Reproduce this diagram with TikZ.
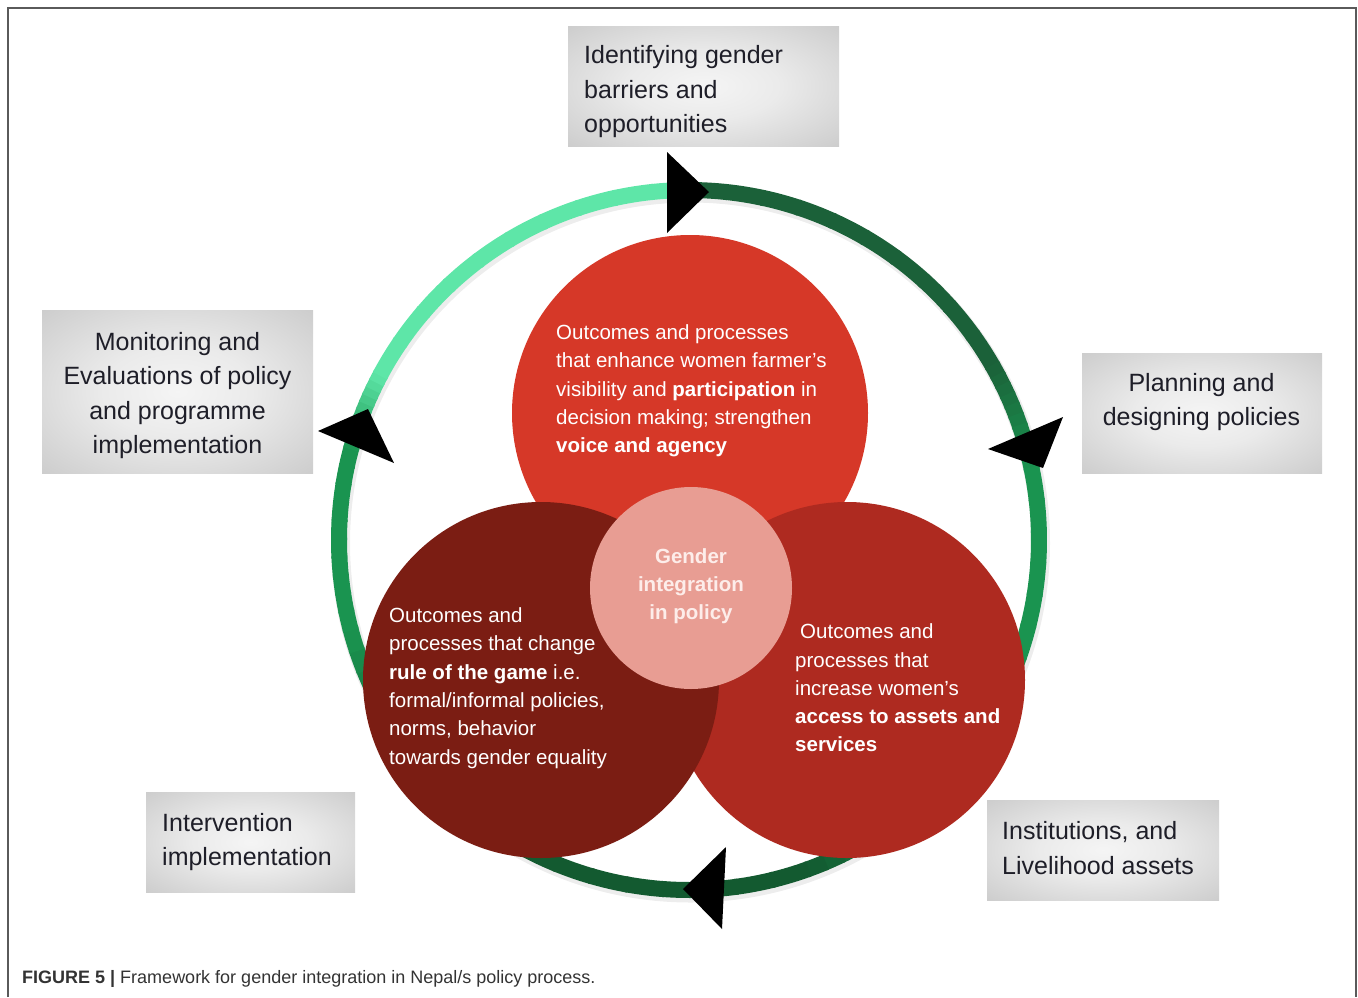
\documentclass[tikz,border=0pt]{standalone}
\usepackage{fontspec}
\setmainfont{Liberation Sans}[Ligatures=ResetAll]
\definecolor{gdark}{HTML}{1B6139}
\definecolor{gmed}{HTML}{1A9450}
\definecolor{gdarkb}{HTML}{135A30}
\definecolor{gmint}{HTML}{5EE6A8}
\definecolor{ctop}{HTML}{D63828}
\definecolor{cleft}{HTML}{7B1D13}
\definecolor{cright}{HTML}{AE2A20}
\definecolor{cmid}{HTML}{E89D93}
\definecolor{cmidtxt}{HTML}{FDEDEA}
\definecolor{boxtxt}{HTML}{1E1E28}
\definecolor{framec}{HTML}{5A5A5A}
\definecolor{captc}{HTML}{333333}
\pgfdeclareradialshading{boxshade}{\pgfpoint{0bp}{0bp}}{color(0bp)=(white!96!black); color(14bp)=(white!92!black); color(36bp)=(white!80!black); color(50bp)=(white!70!black)}
\tikzset{
  graybox/.style={draw=none, shading=boxshade, inner sep=0pt},
  boxtext/.style={font=\fontsize{25}{34.5}\selectfont, text=boxtxt, inner sep=0pt},
  circtext/.style={font=\fontsize{20.5}{28.3}\selectfont, text=white, inner sep=0pt, align=left, anchor=west},
  ringline/.style={line width=16pt, line cap=butt},
  arrowhead/.style={fill=black, draw=none},
  framel/.style={draw=framec, line width=1.5pt}
}
\begin{document}
\begin{tikzpicture}[x=1pt,y=1pt]
\useasboundingbox (0,0) rectangle (1358,-997);
% frame
\coordinate (f1) at (8,-997);
\coordinate (f2) at (8,-8);
\coordinate (f3) at (1356,-8);
\coordinate (f4) at (1356,-997);
\draw[framel] (f1) -- (f2) -- (f3) -- (f4);
% ring
\coordinate (rc) at (689,-540);
\draw[line width=19pt, black!7] ([shift={(1.5,-3)}]rc) circle[radius=350];
\foreach \sa/\ea/\ca/\cb in {90/30/gdark/gdark, 30/12/gdark/gmed, 12/-40/gmed/gmed, -40/-70/gmed/gdarkb, -70/-130/gdarkb/gdarkb, -130/-165/gdarkb/gmed, -165/-195/gmed/gmed, -195/-208/gmed/gmint, -208/-270/gmint/gmint}{
  \foreach \i in {0,...,9}{
    \pgfmathsetmacro\aa{\sa+(\ea-\sa)*\i/10}
    \pgfmathsetmacro\bb{\sa+(\ea-\sa)*(\i+1)/10-0.4}
    \pgfmathtruncatemacro\t{95-\i*10}
    \draw[ringline, color=\ca!\t!\cb] (rc) ++(\aa:350) arc[start angle=\aa, end angle=\bb, radius=350];
  }
}
% circles
\fill[ctop] (690,-413) circle[radius=178];
\fill[cright] (847,-680) circle[radius=178];
\fill[cleft] (541,-680) circle[radius=178];
\fill[cmid] (691,-588) circle[radius=101];
% circle texts
\node[circtext] (t1) at (556,-391) {Outcomes and processes\\that enhance women farmer's\\visibility and \textbf{participation} in\\decision making; strengthen\\\textbf{voice and agency}};
\node[circtext] (t2) at (389,-688) {Outcomes and\\processes that change\\\textbf{rule of the game} i.e.\\formal/informal policies,\\norms, behavior\\towards gender equality};
\node[circtext] (t3) at (795,-688) {\hspace{5pt}Outcomes and\\processes that\\increase women's\\\textbf{access to assets and}\\\textbf{services}};
\node[circtext, align=center, anchor=center, text=cmidtxt, font=\bfseries\fontsize{20.5}{28.3}\selectfont] (t4) at (691,-586) {Gender\\integration\\in policy};
% arrowheads
\coordinate (a1) at (667,-152); \coordinate (a2) at (667,-233); \coordinate (a3) at (709,-192);
\fill[arrowhead] (a1) -- (a3) -- (a2) -- cycle;
\coordinate (b1) at (1063,-417); \coordinate (b2) at (988,-449); \coordinate (b3) at (1043,-468);
\fill[arrowhead] (b1) -- (b2) -- (b3) -- cycle;
\coordinate (c1) at (318,-431); \coordinate (c2) at (368,-409); \coordinate (c3) at (394,-463);
\fill[arrowhead] (c1) -- (c2) -- (c3) -- cycle;
\coordinate (d1) at (683,-889); \coordinate (d2) at (726,-847); \coordinate (d3) at (722,-929);
\fill[arrowhead] (d1) -- (d2) -- (d3) -- cycle;
% boxes
\node[graybox, minimum width=271, minimum height=120] (box1) at (703.5,-86) {};
\node[boxtext, align=left, anchor=west] (lab1) at (584,-92) {Identifying gender\\barriers and\\opportunities};
\node[graybox, minimum width=271, minimum height=163] (box2) at (177.5,-391.5) {};
\node[boxtext, align=center] (lab2) at (177.5,-395.5) {Monitoring and\\Evaluations of policy\\and programme\\implementation};
\node[graybox, minimum width=240, minimum height=120] (box3) at (1202,-413) {};
\node[boxtext, align=center] (lab3) at (1201.5,-402) {Planning and\\designing policies};
\node[graybox, minimum width=209, minimum height=100] (box4) at (250.5,-842) {};
\node[boxtext, align=left, anchor=west] (lab4) at (162,-842) {Intervention\\implementation};
\node[graybox, minimum width=232, minimum height=100] (box5) at (1103,-850) {};
\node[boxtext, align=left, anchor=west] (lab5) at (1002,-848) {Institutions, and\\Livelihood assets};
% caption
\node[anchor=base west, inner sep=0pt, text=captc, font=\fontsize{18}{22}\selectfont] (cap) at (22,-983.5) {\textbf{FIGURE 5 |} Framework for gender integration in Nepal/s policy process.};
\end{tikzpicture}
\end{document}
